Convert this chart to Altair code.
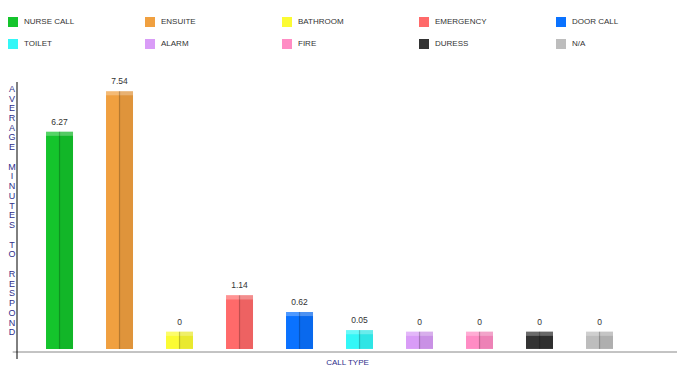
import altair as alt
import pandas as pd

categories = ["NURSE CALL", "ENSUITE", "BATHROOM", "EMERGENCY", "DOOR CALL",
              "TOILET", "ALARM", "FIRE", "DURESS", "N/A"]
values = [6.27, 7.54, 0, 1.14, 0.62, 0.05, 0, 0, 0, 0]
value_labels = ["6.27", "7.54", "0", "1.14", "0.62", "0.05", "0", "0", "0", "0"]
colors = ["#14c42c", "#f0a040", "#fbfb33", "#ff6a6a", "#0a72ff",
          "#33f7f7", "#d99cf7", "#ff8cc4", "#333333", "#bdbdbd"]

GAP = "\u200b"
y_title = list("AVERAGE") + [GAP] + list("MINUTES") + [GAP] + list("TO") + [GAP] + list("RESPOND")

df = pd.DataFrame({"type": categories, "value": values, "label": value_labels})

W, H = 660, 270
NAVY = "#2e2e8a"

xscale = alt.Scale(domain=categories, paddingInner=0.55, paddingOuter=0.775, align=0.312)
yscale = alt.Scale(domain=[-0.636, 7.827], nice=False, zero=False)

x_enc = alt.X("type:N", sort=categories, scale=xscale,
              axis=alt.Axis(labels=False, ticks=False, domain=False, grid=False,
                            title="CALL TYPE", titleFontSize=8, titleFont="Liberation Sans",
                            titleFontWeight="normal", titleColor=NAVY,
                            titleBaseline="middle", titleY=10, titlePadding=0))

base = alt.Chart(df)

bars = base.mark_bar(stroke=None).encode(
    x=x_enc,
    y=alt.Y("value:Q", scale=yscale,
            axis=alt.Axis(labels=False, ticks=False, domain=False, grid=False,
                          title=y_title, titleFontSize=9, titleFont="Liberation Sans",
                          titleFontWeight="normal", titleColor=NAVY, titleAngle=0,
                          titleAlign="center", titleBaseline="middle", titleLimit=2000,
                          titleLineHeight=9.74, titleX=-5.5, titleY=6.3)),
    y2=alt.datum(-0.54),
    color=alt.Color("type:N", scale=alt.Scale(domain=categories, range=colors),
                    legend=alt.Legend(orient="none", legendX=-9, legendY=-65, columns=5,
                                      direction="horizontal", symbolType="square",
                                      symbolSize=100, symbolStrokeWidth=0,
                                      labelFontSize=8, labelFont="Liberation Sans",
                                      labelColor="#333333", labelOffset=6,
                                      columnPadding=69, rowPadding=12, gridAlign="all",
                                      title=None)),
)

shade = base.mark_bar(width=13.5, xOffset=6.75, color="black", opacity=0.07).encode(
    x=alt.X("type:N", sort=categories, scale=xscale),
    y=alt.Y("value:Q", scale=yscale),
    y2=alt.datum(-0.54),
)

cap = base.transform_calculate(capb="datum.value - 0.13").mark_bar(
    color="white", opacity=0.28).encode(
    x=alt.X("type:N", sort=categories, scale=xscale),
    y=alt.Y("value:Q", scale=yscale),
    y2="capb:Q",
)

center = base.mark_rule(color="black", opacity=0.22, strokeWidth=1.2).encode(
    x=alt.X("type:N", sort=categories, scale=xscale),
    y=alt.Y("value:Q", scale=yscale),
    y2=alt.datum(-0.54),
)

text = base.mark_text(fontSize=8.5, font="Liberation Sans", color="#333333",
                      baseline="middle", dy=-10).encode(
    x=alt.X("type:N", sort=categories, scale=xscale),
    y=alt.Y("value:Q", scale=yscale),
    text="label:N",
)

axis_df = pd.DataFrame({"k": [0]})
xaxis_line = alt.Chart(axis_df).mark_rule(color="#888888", strokeWidth=1).encode(
    x=alt.value(-4.3), x2=alt.value(W), y=alt.value(H))
yaxis_line = alt.Chart(axis_df).mark_rule(color="#000000", strokeWidth=1).encode(
    x=alt.value(0), y=alt.value(0), y2=alt.value(H + 7))

chart = alt.layer(bars, shade, cap, center, text, xaxis_line, yaxis_line).properties(
    width=W, height=H,
    background="white",
    autosize=alt.AutoSizeParams(type="none"),
    padding={"left": 9, "top": 74, "right": 0, "bottom": 25},
).configure_view(stroke=None)

chart.save("out.html", embed_options={"renderer": "svg", "actions": False})
